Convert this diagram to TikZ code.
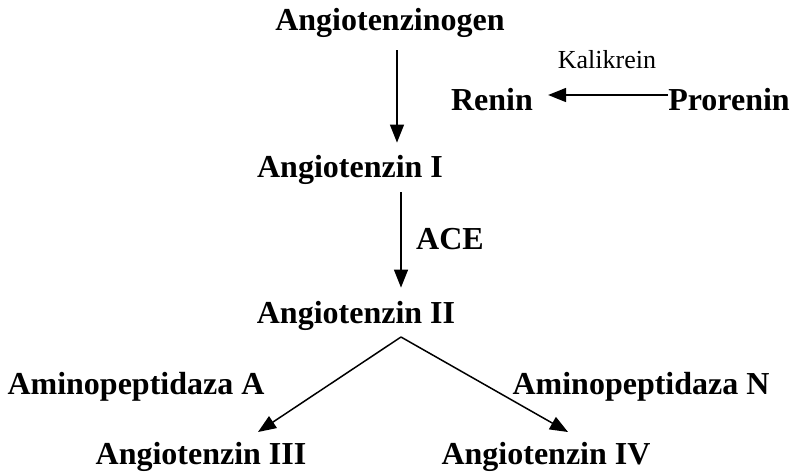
\documentclass[tikz,border=0pt]{standalone}
\usepackage{fontspec}
\setmainfont{Liberation Serif}
\usetikzlibrary{arrows.meta}

\tikzset{
  mol/.style={font=\bfseries\fontsize{32}{36}\selectfont, inner sep=0pt, anchor=base},
  enz/.style={font=\fontsize{26}{30}\selectfont, inner sep=0pt, anchor=base},
  arr/.style={-{Triangle[length=18pt,width=14pt]}, line width=1.5pt}
}

\begin{document}
\begin{tikzpicture}[x=1pt, y=-1pt]
                \useasboundingbox (0,0) rectangle (792,475);

                \node[mol] (agen) at (390,30) {Angiotenzinogen};
                \node[mol] (renin) at (492,110) {Renin};
                \node[mol] (prorenin) at (729,110) {Prorenin};
                \node[enz] (kalik) at (607,68) {Kalikrein};
                \node[mol] (ang1) at (350,177) {Angiotenzin I};
                \node[mol] (ace) at (450,249) {ACE};
                \node[mol] (ang2) at (356,323) {Angiotenzin II};
                \node[mol] (apA) at (136,394) {Aminopeptidaza A};
                \node[mol] (apN) at (641,394) {Aminopeptidaza N};
                \node[mol] (ang3) at (201,464) {Angiotenzin III};
                \node[mol] (ang4) at (546,464) {Angiotenzin IV};

                \coordinate (axisA) at (397,0);
                \coordinate (axisB) at (401,0);
                \coordinate (split) at (401,337);
                \coordinate (in3) at (258,432);
                \coordinate (in4) at (568,432);

                \draw[arr, shorten <=13pt, shorten >=12pt] (agen.south -| axisA) -- (ang1.north -| axisA);
                \draw[arr, shorten >=15pt] ([yshift=15pt]prorenin.base west) -- ([yshift=15pt]renin.base east);
                \draw[arr, shorten <=8pt, shorten >=13pt] (ang1.south -| axisB) -- (ang2.north -| axisB);
                \draw[arr] (split) -- (in3);
                \draw[arr] (split) -- (in4);

            \end{tikzpicture}
\end{document}
